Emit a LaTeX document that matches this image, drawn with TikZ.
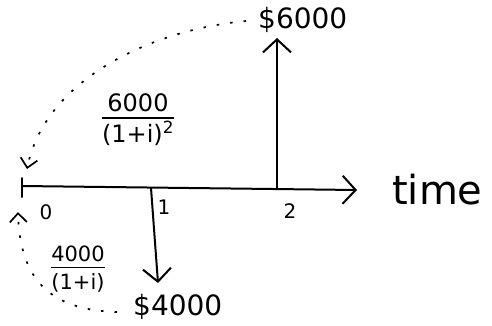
\documentclass[tikz,border=0pt]{standalone}
\usepackage{fontspec}
\setmainfont{DejaVu Sans}
\usetikzlibrary{arrows.meta}
\setlength{\arrayrulewidth}{1.6pt}
\begin{document}
\begin{tikzpicture}[x=1pt,y=-1pt,
  axisline/.style={line width=2pt,line cap=round},
  flow/.style={line width=2pt,-{Straight Barb[length=13pt,width=28pt,line width=2pt]}},
  disc/.style={line width=1.7pt,dash pattern=on 2.5pt off 11pt,-{Straight Barb[length=9pt,width=17pt,line width=1.7pt]}},
  lbl/.style={inner sep=0pt,font=\fontsize{20}{20}\selectfont},
  money/.style={inner sep=0pt,font=\fontsize{28}{28}\selectfont},
  fracA/.style={inner sep=0pt,font=\fontsize{24}{26}\selectfont},
  fracB/.style={inner sep=0pt,font=\fontsize{21}{23}\selectfont}]
\useasboundingbox (0,0) rectangle (492,325);
% time axis
\coordinate (t0) at (22,186);
\coordinate (t1) at (151,188);
\coordinate (t2) at (277,189);
\coordinate (tend) at (357,190);
\draw[flow] (t0) -- (tend);
\draw[axisline] (22,178) -- (22,197);
\node[inner sep=0pt,font=\fontsize{40}{40}\selectfont,anchor=west] (time) at (392,190) {time};
\node[lbl] (l0) at (46,212) {0};
\node[lbl] (l1) at (164,207) {1};
\node[lbl] (l2) at (290,211) {2};
% cash flows
\node[money,anchor=west] (c6000) at (258,20) {\$6000};
\node[money,anchor=west] (c4000) at (133,307) {\$4000};
\coordinate (up) at (277,38);
\coordinate (down) at (158,283);
\draw[flow] (t2) -- (up);
\draw[flow] (t1) -- (down);
% discount labels
\node[fracA] (f2) at (138,122) {\begin{tabular}{@{}c@{}}6000\\[-2pt]\hline\rule{0pt}{24pt}(1+i)\textsuperscript{2}\end{tabular}};
\node[fracB] (f1) at (78,271) {\begin{tabular}{@{}c@{}}4000\\[-2pt]\hline\rule{0pt}{21pt}(1+i)\end{tabular}};
% discount arcs
\coordinate (a2s) at (246,21);
\coordinate (a2e) at (27,169);
\draw[disc] (a2s) .. controls (150,30) and (45,80) .. (a2e);
\coordinate (a1s) at (117,312);
\coordinate (a1e) at (18,212);
\draw[disc] (a1s) .. controls (50,310) and (20,280) .. (a1e);
\end{tikzpicture}
\end{document}
